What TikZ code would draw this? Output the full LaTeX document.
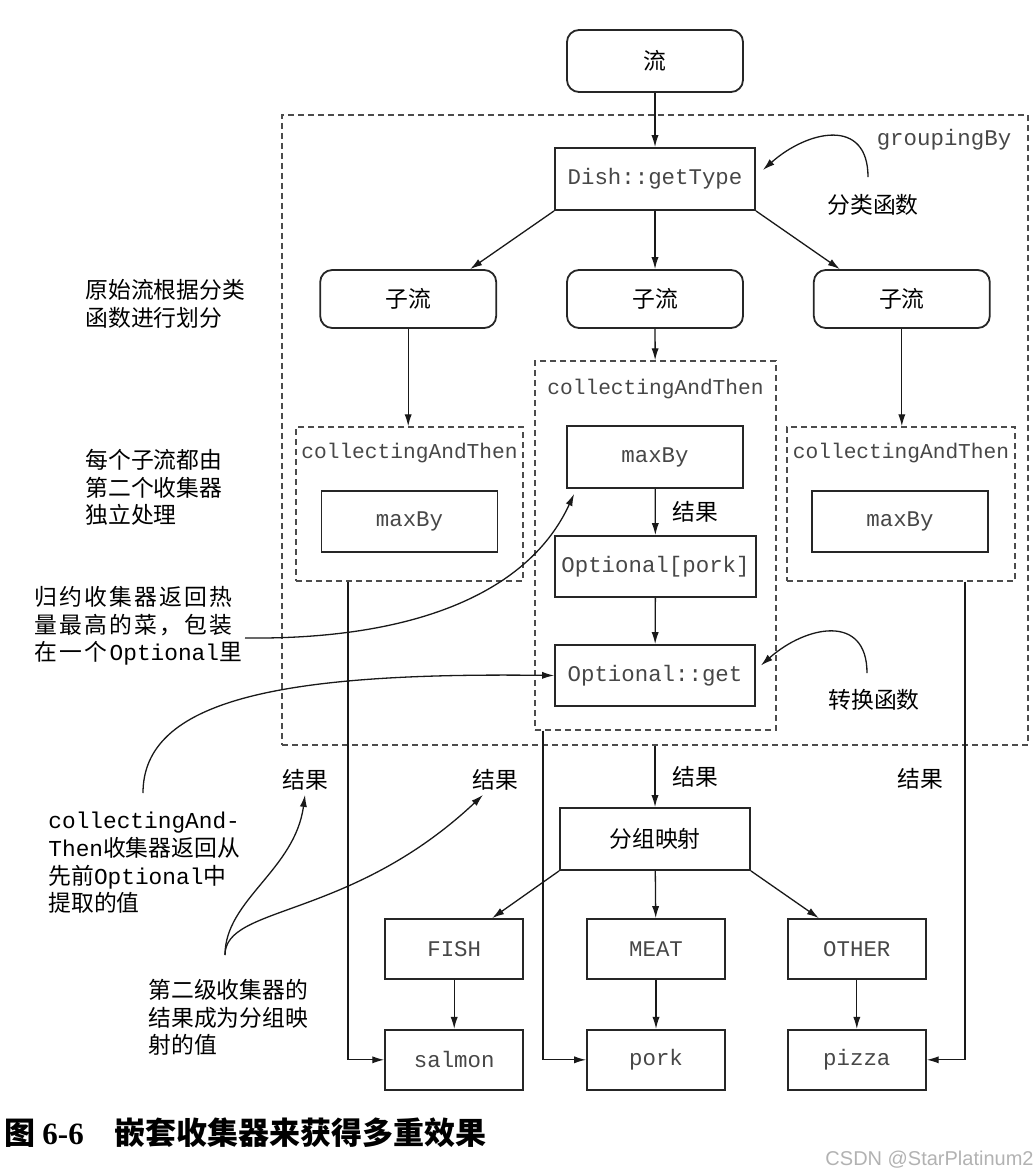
\documentclass[tikz,border=0pt]{standalone}
\usepackage{fontspec}
\setmainfont{Noto Sans CJK SC}
\setmonofont{Liberation Mono}
\setsansfont{Liberation Sans}
\newfontfamily\capnum{Liberation Serif}
\newfontfamily\widecjk[LetterSpace=10]{Noto Sans CJK SC}
\usetikzlibrary{arrows.meta,positioning,calc}
\newcommand\codefont{\ttfamily\fontsize{11.2}{13}\selectfont}
\newcommand\cjkfont{\fontsize{11.4}{13.8}\selectfont}
\tikzset{
  pbox/.style={draw=black!85, line width=0.9pt, minimum width=88pt, minimum height=30.5pt, inner sep=0pt, font=\codefont, text=black!72},
  rbox/.style={pbox, rounded corners=6pt, font=\cjkfont, text=black},
  groupbox/.style={draw=black!70, line width=0.7pt, dash pattern=on 3pt off 2pt, inner sep=0pt},
  grouplabel/.style={inner sep=0pt, font=\ttfamily\fontsize{10.6}{12}\selectfont, text=black!72},
  cjk/.style={inner sep=0pt, font=\cjkfont},
  note/.style={align=left, inner sep=0pt, anchor=north west, font=\cjkfont},
  flow/.style={-{Latex[length=6pt,width=3.6pt]}, line width=0.65pt, draw=black!90},
}

\begin{document}
\begin{tikzpicture}[x=0.5pt, y=-0.5pt]
    \useasboundingbox (0,0) rectangle (1036,1176);
    % top: stream and classifier
    \node[rbox, minimum height=31pt] (stream) at (655,61) {流};
    \node[groupbox, minimum width=373pt, minimum height=315pt] (grouping) at (655,430) {};
    \node[grouplabel, font=\codefont] (groupinglbl) at (944,140) {groupingBy};
    \node[pbox, minimum width=100pt, minimum height=31pt] (gettype) at (655,179) {Dish::getType};
    \node[cjk] (classfn) at (873,205) {分类函数};
    \node[rbox, minimum height=29pt] (sub2) at (655,299) {子流};
    \node[rbox, minimum height=29pt, left=34.5pt of sub2] (sub1) {子流};
    \node[rbox, minimum height=29pt, right=34.5pt of sub2] (sub3) {子流};
    % downstream collectors
    \node[groupbox, minimum width=113.5pt, minimum height=77pt] (cat1) at (409.5,504) {};
    \node[grouplabel] (cat1lbl) at (409.5,453) {collectingAndThen};
    \node[pbox] (maxby1) at (409.5,521.5) {maxBy};
    \node[groupbox, minimum width=120.5pt, minimum height=184.5pt] (cat2) at (655.5,545.5) {};
    \node[grouplabel] (cat2lbl) at (655.5,389) {collectingAndThen};
    \node[pbox, minimum height=31pt] (maxby2) at (655,457) {maxBy};
    \node[pbox, minimum width=100.5pt] (optpork) at (655.5,566.5) {Optional[pork]};
    \node[pbox, minimum width=100pt] (optget) at (655,675.5) {Optional::get};
    \node[groupbox, minimum width=114pt, minimum height=77pt] (cat3) at (901,504) {};
    \node[grouplabel] (cat3lbl) at (901,453) {collectingAndThen};
    \node[pbox] (maxby3) at (900,521.5) {maxBy};
    \node[cjk] (convfn) at (874,700) {转换函数};
    % results and map
    \node[cjk] (res1) at (305,780) {结果};
    \node[cjk] (res2) at (495,780) {结果};
    \node[cjk] (res4) at (920,779) {结果};
    \node[pbox, minimum width=95pt, minimum height=31pt, font=\cjkfont, text=black] (groupmap) at (655,839) {分组映射};
    \node[pbox, minimum width=69pt, minimum height=30pt] (meat) at (656,949) {MEAT};
    \node[pbox, minimum width=69pt, minimum height=30pt, left=31pt of meat] (fish) {FISH};
    \node[pbox, minimum width=69pt, minimum height=30pt, right=30.5pt of meat] (other) {OTHER};
    \node[pbox, minimum width=69pt, minimum height=30pt, below=24.5pt of fish] (salmon) {salmon};
    \node[pbox, minimum width=69pt, minimum height=30pt, below=24.5pt of meat] (pork) {pork};
    \node[pbox, minimum width=69pt, minimum height=30pt, below=24.5pt of other] (pizza) {pizza};
    % side notes
    \node[note] (note1) at (85,279) {原始流根据分类\\函数进行划分};
    \node[note] (note2) at (85,449) {每个子流都由\\第二个收集器\\独立处理};
    \node[note, font=\cjkfont\widecjk] (note3) at (34,586) {归约收集器返回热\\量最高的菜，包装\\在一个\texttt{Optional}里};
    \node[note] (note4) at (48,812) {\texttt{collectingAnd-}\\\texttt{Then}收集器返回从\\先前\texttt{Optional}中\\提取的值};
    \node[note] (note5) at (148,979) {第二级收集器的\\结果成为分组映\\射的值};
    \coordinate (n3out) at (245,638);
    \coordinate (n4out) at (143,793);
    \coordinate (n5out) at (225,955);
    % caption
    \node[anchor=west, inner sep=0pt, font=\fontsize{15.5}{18}\selectfont\bfseries] (caption) at (4,1133) {图 {\capnum\bfseries 6-6}\quad 嵌套收集器来获得多重效果};
    \node[anchor=east, inner sep=0pt, font=\sffamily\fontsize{10}{12}\selectfont, text=black!30] (mark) at (1034,1160) {CSDN @StarPlatinum2};

    \draw[flow] (stream) -- (gettype);
    \draw[flow] (gettype.south west) -- ([xshift=31pt]sub1.north);
    \draw[flow] (gettype) -- (sub2);
    \draw[flow] (gettype.south east) -- ([xshift=-31pt]sub3.north);
    \draw[flow] (sub1) -- (sub1 |- cat1.north);
    \draw[flow] (sub2) -- (cat2);
    \draw[flow] (sub3) -- (sub3 |- cat3.north);
    \draw[flow] (maxby2) -- node[cjk, right=8.5pt] (resmid) {结果} (optpork);
    \draw[flow] (optpork) -- (optget);
    \draw[flow] (grouping.south) -- node[cjk, right=8.5pt] (res3) {结果} (groupmap);
    \draw[flow] (groupmap.south west) -- ([xshift=19pt]fish.north);
    \draw[flow] (groupmap) -- (meat);
    \draw[flow] (groupmap.south east) -- ([xshift=-19pt]other.north);
    \draw[flow] (fish) -- (salmon);
    \draw[flow] (meat) -- (pork);
    \draw[flow] (other) -- (pizza);
    \draw[flow] ([xshift=-30.75pt]cat1.south) |- (salmon.west);
    \draw[flow] ([xshift=-56.25pt]cat2.south) |- (pork.west);
    \draw[flow] ([xshift=32pt]cat3.south) |- (pizza.east);
    % curved callouts
    \draw[flow] ([xshift=-2.5pt,yshift=8.5pt]classfn.north) .. controls +(0,30pt) and +(22.5pt,20pt) .. ([xshift=3.5pt,yshift=4.5pt]gettype.east);
    \draw[flow] ([xshift=-3.5pt,yshift=8pt]convfn.north) .. controls +(0,30pt) and +(22.5pt,20pt) .. ([xshift=2.5pt,yshift=5pt]optget.east);
    \draw[flow] (n3out) .. controls (420,640) and (530,590) .. ([xshift=4pt,yshift=-2.5pt]maxby2.south west);
    \draw[flow] (n4out) .. controls (143,700) and (280,672) .. (optget.west);
    \draw[flow] (n5out) .. controls (225,900) and (295,870) .. ([yshift=-2pt]res1.south);
    \draw[flow] (n5out) .. controls (225,905) and (350,920) .. ([xshift=-6pt,yshift=-2pt]res2.south);
\end{tikzpicture}
\end{document}
